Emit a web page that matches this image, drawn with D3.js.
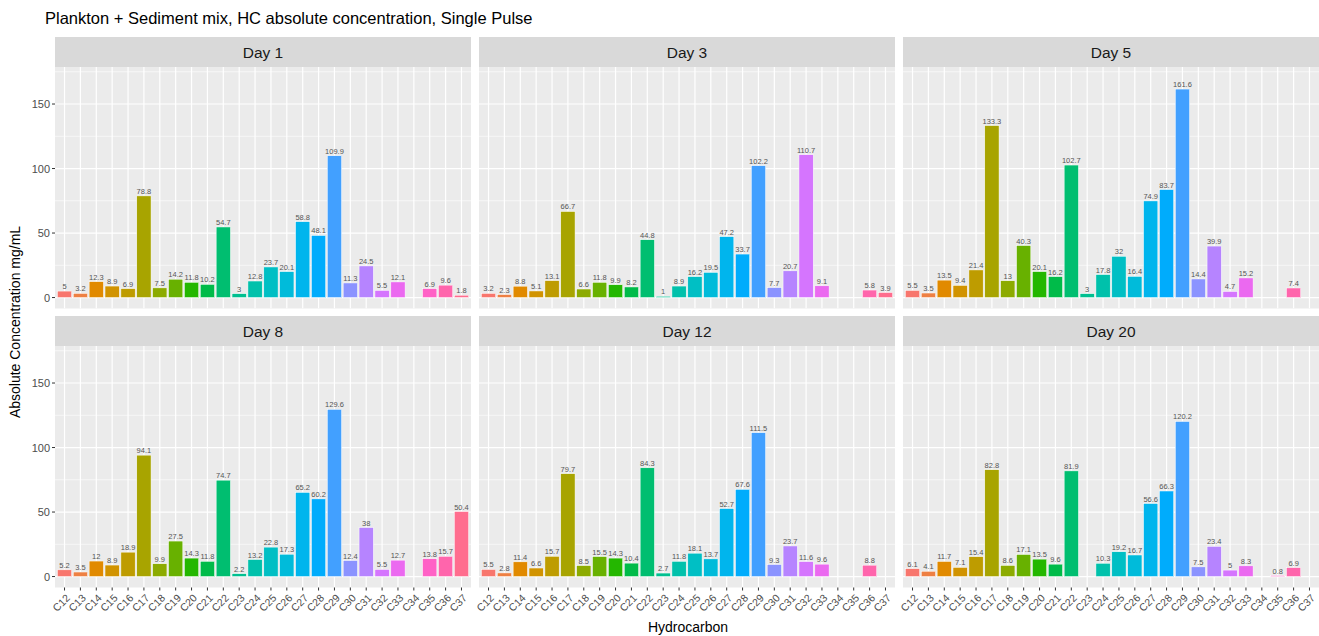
<!DOCTYPE html>
<html><head><meta charset="utf-8">
<script src="https://cdn.jsdelivr.net/npm/d3@7"></script>
<style>body{margin:0;background:#fff;}svg{display:block;font-family:"Liberation Sans",Arial,sans-serif;}</style>
</head><body><svg id="chart" width="1319" height="636"></svg>
<script>
const categories = ["C12","C13","C14","C15","C16","C17","C18","C19","C20","C21","C22","C23","C24","C25","C26","C27","C28","C29","C30","C31","C32","C33","C34","C35","C36","C37"];
const days = ["Day 1","Day 3","Day 5","Day 8","Day 12","Day 20"];
const day1  = [5,3.2,12.3,8.9,6.9,78.8,7.5,14.2,11.8,10.2,54.7,3,12.8,23.7,20.1,58.8,48.1,109.9,11.3,24.5,5.5,12.1,null,6.9,9.6,1.8];
const day3  = [3.2,2.3,8.8,5.1,13.1,66.7,6.6,11.8,9.9,8.2,44.8,1,8.9,16.2,19.5,47.2,33.7,102.2,7.7,20.7,110.7,9.1,null,null,5.8,3.9];
const day5  = [5.5,3.5,13.5,9.4,21.4,133.3,13,40.3,20.1,16.2,102.7,3,17.8,32,16.4,74.9,83.7,161.6,14.4,39.9,4.7,15.2,null,null,7.4,null];
const day8  = [5.2,3.5,12,8.9,18.9,94.1,9.9,27.5,14.3,11.8,74.7,2.2,13.2,22.8,17.3,65.2,60.2,129.6,12.4,38,5.5,12.7,null,13.8,15.7,50.4];
const day12 = [5.5,2.8,11.4,6.6,15.7,79.7,8.5,15.5,14.3,10.4,84.3,2.7,11.8,18.1,13.7,52.7,67.6,111.5,9.3,23.7,11.6,9.6,null,null,8.8,null];
const day20 = [6.1,4.1,11.7,7.1,15.4,82.8,8.6,17.1,13.5,9.6,81.9,null,10.3,19.2,16.7,56.6,66.3,120.2,7.5,23.4,5,8.3,null,0.8,6.9,null];
const yTicks = [0,50,100,150];
const yMinor = [25,75,125,175];
const series = [day1,day3,day5,day8,day12,day20];

// ggplot2 default hue palette (R hcl, polar LUV)
function hclR(h,c,l){
  const Xn=95.047,Yn=100,Zn=108.883;
  const hr=h*Math.PI/180, U=c*Math.cos(hr), V=c*Math.sin(hr);
  const Y = l>8 ? Math.pow((l+16)/116,3) : l/903.3;
  const den=Xn+15*Yn+3*Zn, un=4*Xn/den, vn=9*Yn/den;
  const u=U/(13*l)+un, v=V/(13*l)+vn;
  const X=9*Y*u/(4*v), Z=Y*(12-3*u-20*v)/(4*v);
  const lin=[3.240479*X-1.537150*Y-0.498535*Z, -0.969256*X+1.875992*Y+0.041556*Z, 0.055648*X-0.204043*Y+1.057311*Z];
  const g=lin.map(t=>{t=t<=0.0031308?12.92*t:1.055*Math.pow(t,1/2.4)-0.055;return Math.round(Math.max(0,Math.min(1,t))*255);});
  return d3.rgb(g[0],g[1],g[2]).formatHex();
}
const n=categories.length;
const color=d3.scaleOrdinal().domain(categories).range(categories.map((c,i)=>hclR(15+i*360/n,100,65)));

const svg=d3.select("#chart");
const panelW=416, panelH=241.5, stripH=30;
const colX=[55,479,903];
const rowStripTop=[37,316];

svg.append("text").attr("x",45).attr("y",24).attr("font-size",16.5).attr("fill","#000")
  .text("Plankton + Sediment mix, HC absolute concentration, Single Pulse");

const defs=svg.append("defs");

days.forEach((day,di)=>{
  const col=di%3,row=Math.floor(di/3);
  const x0=colX[col], sTop=rowStripTop[row], pTop=sTop+stripH;
  const g=svg.append("g").attr("transform",`translate(${x0},0)`);
  g.append("rect").attr("x",0).attr("y",sTop).attr("width",panelW).attr("height",stripH).attr("fill","#D9D9D9");
  g.append("text").attr("x",panelW/2).attr("y",sTop+stripH/2+5.5).attr("text-anchor","middle")
    .attr("font-size",15.5).attr("fill","#1A1A1A").text(day);
  g.append("rect").attr("x",0).attr("y",pTop).attr("width",panelW).attr("height",panelH).attr("fill","#EBEBEB");
  // discrete scale with ggplot's 0.6 expansion on each side
  const x=d3.scalePoint().domain(categories).range([0,panelW]).padding(0.6);
  const step=x.step();
  const cx=c=>x(c);
  const y=d3.scaleLinear().domain([-8.5,178.7]).range([pTop+panelH,pTop]);
  const clipId="clip"+di;
  defs.append("clipPath").attr("id",clipId).append("rect").attr("x",0).attr("y",pTop).attr("width",panelW).attr("height",panelH);
  const pg=g.append("g").attr("clip-path",`url(#${clipId})`);
  pg.selectAll(".ymin").data(yMinor).join("line").attr("x1",0).attr("x2",panelW)
    .attr("y1",d=>y(d)).attr("y2",d=>y(d)).attr("stroke","#fff").attr("stroke-width",0.6);
  pg.selectAll(".ymaj").data(yTicks).join("line").attr("x1",0).attr("x2",panelW)
    .attr("y1",d=>y(d)).attr("y2",d=>y(d)).attr("stroke","#fff").attr("stroke-width",1.2);
  pg.selectAll(".xmaj").data(categories).join("line").attr("x1",d=>cx(d)).attr("x2",d=>cx(d))
    .attr("y1",pTop).attr("y2",pTop+panelH).attr("stroke","#fff").attr("stroke-width",1.2);
  const vals=series[di].map((v,i)=>({c:categories[i],v})).filter(d=>d.v!==null);
  const bw=step*0.9;
  pg.selectAll(".bar").data(vals).join("rect")
    .attr("x",d=>cx(d.c)-bw/2).attr("width",bw)
    .attr("y",d=>y(d.v)).attr("height",d=>y(0)-y(d.v))
    .attr("fill",d=>color(d.c)).attr("stroke","#fff").attr("stroke-width",0.5);
  pg.selectAll(".lab").data(vals).join("text")
    .attr("x",d=>cx(d.c)).attr("y",d=>y(d.v)-2).attr("text-anchor","middle")
    .attr("font-size",7.5).attr("fill","#555").text(d=>d.v);
  if(col===0){
    const ya=g.append("g");
    yTicks.forEach(t=>{
      ya.append("line").attr("x1",-3).attr("x2",0).attr("y1",y(t)).attr("y2",y(t)).attr("stroke","#333").attr("stroke-width",1);
      ya.append("text").attr("x",-5).attr("y",y(t)+4).attr("text-anchor","end").attr("font-size",11).attr("fill","#4D4D4D").text(t);
    });
  }
  if(row===1){
    const xa=g.append("g");
    const yb=pTop+panelH;
    categories.forEach(c=>{
      xa.append("line").attr("x1",cx(c)).attr("x2",cx(c)).attr("y1",yb).attr("y2",yb+3).attr("stroke","#333").attr("stroke-width",1);
      xa.append("text").attr("transform",`translate(${cx(c)+1},${yb+6}) rotate(-45)`).attr("text-anchor","end")
        .attr("dy","0.7em").attr("font-size",10.5).attr("fill","#4D4D4D").text(c);
    });
  }
});

svg.append("text").attr("x",688).attr("y",632).attr("text-anchor","middle").attr("font-size",14).attr("fill","#000").text("Hydrocarbon");
svg.append("text").attr("transform","translate(20,322) rotate(-90)").attr("text-anchor","middle").attr("font-size",14).attr("fill","#000").text("Absolute Concentration mg/mL");
</script></body></html>
